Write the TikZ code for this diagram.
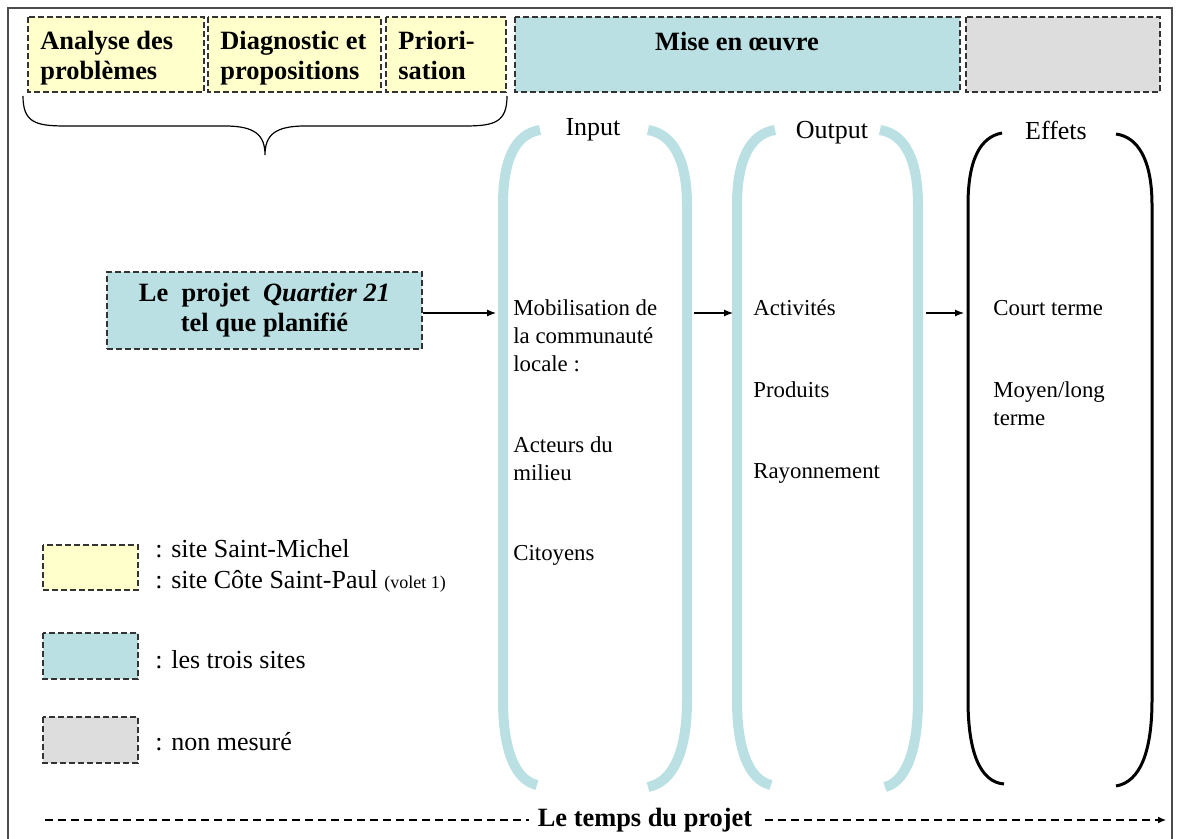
\documentclass[tikz,border=0pt]{standalone}
\usepackage{fontspec}
\setmainfont{Liberation Serif}
\usetikzlibrary{arrows.meta}
\definecolor{yel}{HTML}{FFFFCC}
\definecolor{teal2}{HTML}{BBE0E3}
\definecolor{gry}{HTML}{DDDDDD}
\tikzset{
  dbox/.style={draw=black!80, line width=0.6pt, dash pattern=on 3pt off 1.5pt},
  hdr/.style={align=left, anchor=north west, inner sep=0pt, font=\bfseries\fontsize{13.2}{15}\selectfont},
  txt/.style={align=left, anchor=west, inner sep=0pt, font=\fontsize{11.4}{14}\selectfont},
  leg/.style={align=left, anchor=west, inner sep=0pt, font=\fontsize{13}{15.5}\selectfont},
  blu/.style={draw=teal2, line width=5pt, line cap=butt},
  blk/.style={draw=black, line width=1.5pt},
  arr/.style={-{Latex[length=4.5pt,width=3.5pt]}, line width=0.6pt},
  lbl/.style={inner sep=0pt, font=\fontsize{13}{15}\selectfont}
}
\begin{document}
\begin{tikzpicture}[x=0.5pt,y=-0.5pt]
\useasboundingbox (0,0) rectangle (1177,839);
% frame
\draw[line width=0.8pt, black!70] (8,845) -- (8,8) -- (1172,8) -- (1172,845);
% header boxes
\draw[dbox, fill=yel] (28,17) rectangle (204,92);
\draw[dbox, fill=yel] (208,17) rectangle (381,92);
\draw[dbox, fill=yel] (386,17) rectangle (506,92);
\draw[dbox, fill=teal2] (515,17) rectangle (960,92);
\draw[dbox, fill=gry] (966,17) rectangle (1160,92);
\node[hdr] (h1) at (40,31) {Analyse des\\problèmes};
\node[hdr] (h2) at (220,31) {Diagnostic et\\propositions};
\node[hdr] (h3) at (398,31) {Priori-\\sation};
\node[hdr, anchor=center] (h4) at (737,42) {Mise en œuvre};
% brace
\draw[line width=0.6pt] (23,96) .. controls (23,122) and (35,126) .. (65,126) -- (225,126)
  .. controls (255,126) and (265,135) .. (265,155)
  .. controls (265,135) and (275,126) .. (305,126) -- (465,126)
  .. controls (495,126) and (507,122) .. (507,96);
% project box
\node[dbox, fill=teal2, minimum width=157.5pt, minimum height=38.5pt, align=center,
  font=\bfseries\fontsize{13.2}{15}\selectfont] (projet) at (264.5,310.5)
  {Le\ \ projet\ \ \textit{Quartier 21}\\tel que planifié};
% brackets: Input
\draw[blu] (540,130) .. controls (515,134) and (503,160) .. (503,205) -- (503,700)
  .. controls (503,750) and (515,780) .. (537,785);
\draw[blu] (648,130) .. controls (673,134) and (687,160) .. (687,205) -- (687,700)
  .. controls (687,752) and (673,782) .. (648,787);
% Output
\draw[blu] (775,130) .. controls (750,134) and (737,160) .. (737,205) -- (737,700)
  .. controls (737,750) and (749,780) .. (771,785);
\draw[blu] (880,130) .. controls (905,134) and (918,160) .. (918,205) -- (918,700)
  .. controls (918,752) and (905,782) .. (885,787);
% Effets
\draw[blk] (1002,133) .. controls (980,137) and (968,160) .. (968,205) -- (968,700)
  .. controls (968,752) and (980,782) .. (1004,784);
\draw[blk] (1116,134) .. controls (1138,137) and (1152,160) .. (1152,205) -- (1152,700)
  .. controls (1152,752) and (1140,782) .. (1116,786);
% labels
\node[lbl] (lin) at (593,130) {Input};
\node[lbl] (lout) at (832,133) {Output};
\node[lbl] (leff) at (1056,130) {Effets};
% arrows
\coordinate (inL) at (496,313);
\coordinate (outS) at (694,313);
\coordinate (outE) at (733,313);
\coordinate (effS) at (926,313);
\coordinate (effE) at (964,313);
\draw[arr] (projet.east |- inL) -- (inL);
\draw[arr] (outS) -- (outE);
\draw[arr] (effS) -- (effE);
% input texts
\node[txt] (i1) at (513,336) {Mobilisation de\\la communauté\\locale :};
\node[txt] (i2) at (513,459) {Acteurs du\\milieu};
\node[txt] (i3) at (513,555) {Citoyens};
% output texts
\node[txt] (o1) at (753,308) {Activités};
\node[txt] (o2) at (753,390) {Produits};
\node[txt] (o3) at (753,473) {Rayonnement};
% effets texts
\node[txt] (e1) at (993,308) {Court terme};
\node[txt] (e2) at (993,404) {Moyen/long\\terme};
% legend
\draw[dbox, fill=yel] (43,545) rectangle (138,590);
\draw[dbox, fill=teal2] (43,633) rectangle (138,679);
\draw[dbox, fill=gry] (43,717) rectangle (138,763);
\node[leg] (g1) at (155,566) {: site Saint-Michel\\: site Côte Saint-Paul {\fontsize{9}{10}\selectfont (volet 1)}};
\node[leg] (g2) at (155,660) {: les trois sites};
\node[leg] (g3) at (155,742) {: non mesuré};
% time axis
\node[lbl, font=\bfseries\fontsize{13.2}{15}\selectfont] (temps) at (645,820) {Le temps du projet};
\coordinate (tS) at (45,820);
\coordinate (tE) at (1166,820);
\draw[line width=0.6pt, dash pattern=on 4pt off 2.5pt] (tS) -- ([xshift=-4pt]temps.west);
\draw[line width=0.6pt, dash pattern=on 4pt off 2.5pt, -{Latex[length=4pt,width=3.5pt]}] ([xshift=6pt]temps.east) -- (tE);
\end{tikzpicture}
\end{document}
